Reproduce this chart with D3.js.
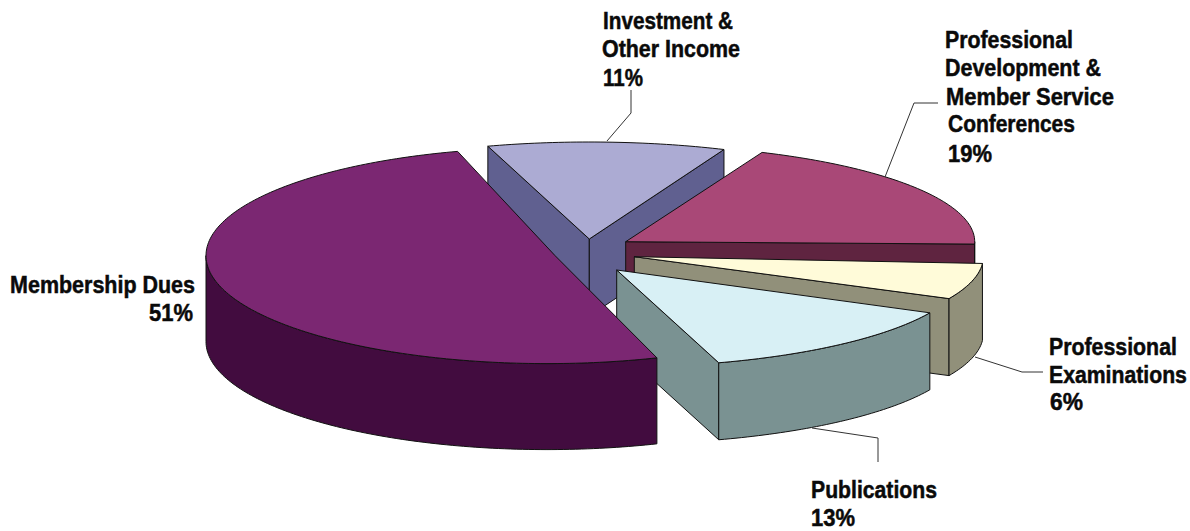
<!DOCTYPE html>
<html>
<head>
<meta charset="utf-8">
<title>Revenue sources</title>
<script src="https://cdn.jsdelivr.net/npm/d3@7"></script>
<style>
  html, body { margin: 0; padding: 0; background: #fff; }
  svg { display: block; }
  text { font-family: "Liberation Sans Narrow", "Liberation Sans", Arial, sans-serif; font-weight: 700; fill: #0a0a0a; stroke: #0a0a0a; stroke-width: 0.5px; }
</style>
</head>
<body>
<svg id="chart" width="1190" height="531"></svg>
<script>
// Revenue shares, listed clockwise starting from the Membership Dues slice.
const categories = ["Membership Dues", "Investment & Other Income", "Professional Development & Member Service Conferences", "Professional Examinations", "Publications"];
const shares = [51, 11, 19, 6, 13];
const labelLines = [
  ["Membership Dues"],
  ["Investment &", "Other Income"],
  ["Professional", "Development &", "Member Service", "Conferences"],
  ["Professional", "Examinations"],
  ["Publications"]
];

// Back-to-front painting order of the slices.
const paintOrder = [1, 2, 3, 4, 0];

// Face and wall colours per slice.
const topColors = ["#7b2772", "#acabd3", "#a94877", "#fffbd9", "#d8f0f5"];
const wallColors = ["#420c3f", "#606090", "#5f2440", "#91907a", "#7a9292"];

// Exploded centre of each slice, its radii, extrusion depth, small turn in degrees,
// and how far the hub sits from the rim centre.
const centres = [[547, 255.6], [589.3, 239], [625.7, 241.7], [634.3, 256.7], [616.7, 270]];
const radiiX = [341, 349, 349, 349, 349];
const tiltRadii = [108, 97, 97, 97, 97];
const depths = [86, 77, 77, 77, 77];
const turns = [0, -1.7, -1.4, 1.2, 1.8];
const hubShifts = [8, 0, 0, 0, 0];

// Label placement: left or right x, baseline and fitted width of each line.
const labelLayout = [
  { anchor: "end", lines: [[195, 293, 185], [193, 321, 44]] },
  { anchor: "start", lines: [[603, 29, 130], [602, 57, 138], [603, 86, 40]] },
  { anchor: "start", lines: [[945, 48, 128], [945, 76, 156], [946, 105, 168], [948, 132, 127], [948, 162, 44]] },
  { anchor: "start", lines: [[1049, 355, 128], [1049, 383, 138], [1050, 410, 33]] },
  { anchor: "start", lines: [[811, 498, 126], [811, 526, 44]] }
];

// Leader lines from a label to its slice rim; Membership Dues has none.
const leaders = [
  null,
  [[631, 90], [631, 113], [607, 141]],
  [[938, 103], [914, 103], [885, 177]],
  [[1043, 372], [1022, 372], [975, 357]],
  [[878, 462], [878, 438], [812, 428]]
];

const svg = d3.select("#chart");
const deg = Math.PI / 180;

// Pie angles run clockwise from twelve o'clock, with the first slice beginning low on the front.
const pie = d3.pie().value(d => d).sort(null)
  .startAngle(161.2 * deg).endAngle((161.2 + 360) * deg);
const arcs = pie(shares);

const line = d3.line();

paintOrder.forEach(i => {
  const arc = arcs[i];
  const [cx, cy] = centres[i];
  const x = d3.scaleLinear().domain([-1, 1]).range([cx - radiiX[i], cx + radiiX[i]]);
  const y = d3.scaleLinear().domain([-1, 1]).range([cy - tiltRadii[i], cy + tiltRadii[i]]);
  const depth = depths[i];

  // Bring the angles back to a single turn before applying the slice's own small rotation.
  const wrap = arc.startAngle >= 2 * Math.PI ? 2 * Math.PI : 0;
  const a0 = arc.startAngle - wrap + turns[i] * deg;
  const a1 = arc.endAngle - wrap + turns[i] * deg;

  const rim = (a, dy = 0) => [x(Math.sin(a)), y(-Math.cos(a)) + dy];
  const sweep = (from, to, dy = 0) => {
    const n = Math.max(2, Math.ceil((to - from) / (1 * deg)));
    return d3.range(n + 1).map(k => rim(from + (to - from) * k / n, dy));
  };
  const apex = [x(0) + hubShifts[i], y(0)];
  const apexLow = [apex[0], apex[1] + depth];

  const g = svg.append("g").attr("class", "slice");
  const wall = pts => g.append("path")
    .attr("d", line(pts) + "Z")
    .attr("fill", wallColors[i])
    .attr("stroke", "#111")
    .attr("stroke-width", 1)
    .attr("stroke-linejoin", "round");

  // Radial walls are drawn only where they face the viewer.
  if (Math.sin(a0) < 0) {
    wall([apex, rim(a0), rim(a0, depth), apexLow]);
  }
  if (Math.sin(a1) > 0) {
    wall([apex, rim(a1), rim(a1, depth), apexLow]);
  }

  // The curved outer wall exists only on the front half of the rim.
  const frontFrom = Math.max(a0, 90 * deg);
  const frontTo = Math.min(a1, 270 * deg);
  if (frontTo > frontFrom) {
    wall(sweep(frontFrom, frontTo).concat(sweep(frontFrom, frontTo, depth).reverse()));
  }

  // Top face.
  g.append("path")
    .attr("d", line([apex].concat(sweep(a0, a1))) + "Z")
    .attr("fill", topColors[i])
    .attr("stroke", "#111")
    .attr("stroke-width", 1)
    .attr("stroke-linejoin", "round");
});

// Leader lines.
leaders.forEach(pts => {
  if (!pts) return;
  svg.append("path")
    .attr("d", line(pts))
    .attr("fill", "none")
    .attr("stroke", "#333")
    .attr("stroke-width", 1);
});

// Labels: wrapped category lines followed by the percentage, squeezed to a condensed width.
labelLines.forEach((lines, i) => {
  lines.concat([shares[i] + "%"]).forEach((t, k) => {
    const [lx, ly, w] = labelLayout[i].lines[k];
    const label = svg.append("text")
      .attr("text-anchor", labelLayout[i].anchor)
      .attr("font-size", 24)
      .text(t);
    const natural = label.node().getComputedTextLength();
    label.attr("transform", `translate(${lx},${ly}) scale(${w / natural},1)`);
  });
});
</script>
</body>
</html>
